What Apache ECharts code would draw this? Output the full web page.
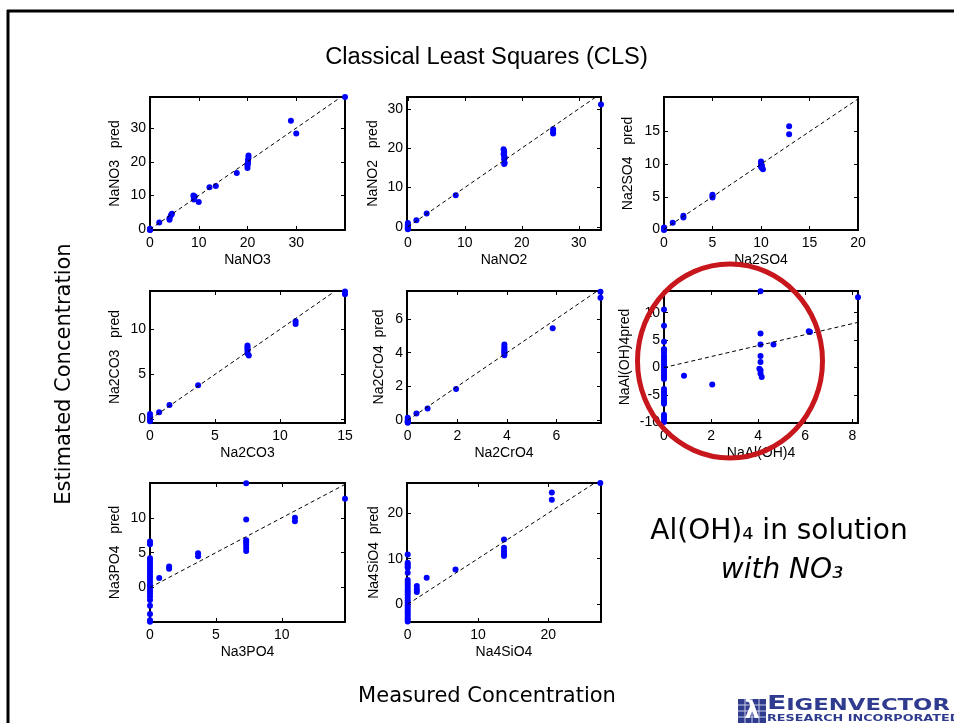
<!DOCTYPE html>
<html>
<head>
<meta charset="utf-8">
<script src="https://cdn.jsdelivr.net/npm/echarts@6/dist/echarts.min.js"></script>
<style>
  html, body { margin: 0; padding: 0; background: #fff; }
  #chart { width: 954px; height: 723px; }
</style>
</head>
<body>
<div id="chart"></div>
<script>
// Measured vs. CLS-predicted concentrations for each sodium salt

const nano3Meas = [0, 0, 0, 0, 1.9, 4.0, 4.0, 4.3, 4.5, 8.9, 9.0, 9.0, 9.2, 10.0, 12.2, 13.5, 17.8, 20.0, 20.0, 20.1, 20.1, 20.2, 20.2, 20.0, 28.9, 30.0, 40.0];
const nano3Pred = [0.2, 0, -0.1, -0.2, 2.0, 3.3, 2.8, 4.2, 4.6, 10.0, 9.5, 8.8, 9.7, 8.1, 12.5, 12.8, 16.7, 18.2, 18.9, 19.7, 20.5, 21.2, 21.9, 19.3, 32.2, 28.4, 39.2];
const nano3XTicks = [0, 10, 20, 30];
const nano3YTicks = [0, 10, 20, 30];

const nano2Meas = [0, 0, 0, 0, 0, 0, 0, 1.5, 3.3, 8.4, 16.8, 16.9, 16.9, 16.8, 16.9, 17.0, 16.9, 17.0, 16.9, 25.5, 25.5, 25.5, 33.9];
const nano2Pred = [1.0, 0.6, 0.3, 0, -0.2, -0.4, -0.6, 1.7, 3.4, 8.0, 19.7, 19.3, 18.9, 18.5, 18.1, 17.6, 17.2, 16.2, 16.0, 24.8, 24.2, 23.7, 31.1];
const nano2XTicks = [0, 10, 20, 30];
const nano2YTicks = [0, 10, 20, 30];

const na2so4Meas = [0, 0, 0, 0, 0.9, 2.0, 2.0, 5.0, 5.0, 5.0, 10.0, 10.0, 10.1, 10.1, 10.2, 10.0, 12.9, 12.9];
const na2so4Pred = [0.3, 0.1, 0, -0.1, 1.0, 2.1, 1.8, 5.3, 5.1, 4.9, 10.4, 10.1, 9.8, 9.4, 9.2, 9.6, 15.8, 14.6];
const na2so4XTicks = [0, 5, 10, 15, 20];
const na2so4YTicks = [0, 5, 10, 15];

const na2co3Meas = [0, 0, 0, 0, 0, 0, 0.7, 1.5, 3.7, 7.5, 7.5, 7.5, 7.5, 7.6, 7.5, 11.2, 11.2, 15.0, 15.0];
const na2co3Pred = [0.6, 0.3, 0, -0.2, -0.5, -0.7, 0.8, 1.6, 3.8, 8.2, 8.0, 7.8, 7.6, 7.1, 7.3, 10.9, 10.6, 14.2, 13.9];
const na2co3XTicks = [0, 5, 10, 15];
const na2co3YTicks = [0, 5, 10];

const na2cro4Meas = [0, 0, 0, 0, 0, 0.35, 0.8, 1.95, 3.9, 3.9, 3.9, 3.9, 3.9, 3.9, 3.9, 5.85, 7.78, 7.78];
const na2cro4Pred = [0.15, 0.05, -0.05, -0.1, -0.15, 0.4, 0.7, 1.85, 4.48, 4.34, 4.24, 4.14, 4.04, 3.95, 3.85, 5.45, 7.6, 7.25];
const na2cro4XTicks = [0, 2, 4, 6];
const na2cro4YTicks = [0, 2, 4, 6];

const naaloh4Meas = [0, 0, 0, 0, 0, 0, 0, 0, 0, 0, 0, 0, 0, 0, 0, 0, 0, 0, 0, 0, 0, 0, 0, 0, 0, 0, 0, 0, 0, 0,
  0.85, 2.05, 4.1, 4.1, 4.1, 4.1, 4.1, 4.05, 4.1, 4.1, 4.15, 4.65, 6.15, 6.2, 8.24];
const naaloh4Pred = [10.6, 7.6, 4.7, 3.4, 3.1, 2.8, 2.2, 1.8, 1.4, 1.0, 0.6, 0.2, -0.2, -0.6, -1.0, -1.4, -1.8, -2.1,
  -3.9, -4.3, -4.7, -5.1, -5.5, -5.9, -6.3, -6.6, -8.6, -9.0, -9.4, -9.9,
  -1.5, -3.1, 13.9, 6.2, 4.2, 2.1, 1.0, -0.2, -0.5, -1.1, -1.7, 4.2, 6.6, 6.5, 12.8];
const naaloh4XTicks = [0, 2, 4, 6, 8];
const naaloh4YTicks = [-10, -5, 0, 5, 10];

const na3po4Meas = [0, 0, 0, 0, 0, 0, 0, 0, 0, 0, 0, 0, 0, 0, 0, 0, 0, 0, 0, 0, 0, 0,
  0.7, 1.45, 1.45, 3.65, 3.65, 7.3, 7.3, 7.3, 7.3, 7.3, 7.3, 7.3, 11.0, 11.0, 14.8];
const na3po4Pred = [6.6, 6.2, 4.2, 3.9, 3.5, 3.1, 2.7, 2.3, 1.9, 1.5, 1.1, 0.7, 0.3, -0.1, -0.5, -0.9, -1.3, -1.8, -2.6, -3.8, -4.7, -4.9,
  1.35, 3.0, 2.7, 4.9, 4.5, 14.95, 9.75, 6.8, 6.5, 6.15, 5.7, 5.25, 10.0, 9.5, 12.75];
const na3po4XTicks = [0, 5, 10];
const na3po4YTicks = [0, 5, 10];

const na4sio4Meas = [0, 0, 0, 0, 0, 0, 0, 0, 0, 0, 0, 0, 0, 0, 0, 0, 0, 0, 0, 0, 0, 0, 0, 0,
  1.3, 1.3, 1.3, 2.7, 6.8, 13.7, 13.7, 13.7, 13.7, 13.7, 20.5, 20.5, 27.4];
const na4sio4Pred = [10.9, 9.1, 8.7, 8.3, 8.0, 6.9, 5.3, 4.7, 4.2, 3.6, 3.0, 2.5, 2.0, 1.4, 0.8, 0.3, -0.3, -0.8, -1.3, -1.8, -2.3, -2.8, -3.3, -3.8,
  4.0, 3.3, 2.7, 5.8, 7.6, 14.2, 12.4, 11.7, 11.1, 10.6, 24.5, 22.9, 26.6];
const na4sio4XTicks = [0, 10, 20];
const na4sio4YTicks = [0, 10, 20];

const AXIS_FONT = 'Liberation Sans, Arial, Helvetica, sans-serif';
const SLIDE_FONT = 'DejaVu Sans, Verdana, sans-serif';

// one subplot per analyte: box = [left, top, width, height]
const panels = [
  { x: nano3Meas, y: nano3Pred, xName: 'NaNO3', yName: 'NaNO3   pred', xRange: [0, 40], yRange: [-0.2, 39.2], xTicks: nano3XTicks, yTicks: nano3YTicks, box: [150, 97, 195, 133], yGap: 28 },
  { x: nano2Meas, y: nano2Pred, xName: 'NaNO2', yName: 'NaNO2   pred', xRange: [-0.15, 33.9], yRange: [-0.8, 33], xTicks: nano2XTicks, yTicks: nano2YTicks, box: [407, 97, 194, 133], yGap: 27 },
  { x: na2so4Meas, y: na2so4Pred, xName: 'Na2SO4', yName: 'Na2SO4   pred', xRange: [0, 20], yRange: [-0.1, 20.3], xTicks: na2so4XTicks, yTicks: na2so4YTicks, box: [664, 97, 194, 133], yGap: 29 },
  { x: na2co3Meas, y: na2co3Pred, xName: 'Na2CO3', yName: 'Na2CO3   pred', xRange: [0, 15], yRange: [-0.4, 14.25], xTicks: na2co3XTicks, yTicks: na2co3YTicks, box: [150, 291, 195, 132], yGap: 28 },
  { x: na2cro4Meas, y: na2cro4Pred, xName: 'Na2CrO4', yName: 'Na2CrO4  pred', xRange: [-0.03, 7.8], yRange: [-0.16, 7.65], xTicks: na2cro4XTicks, yTicks: na2cro4YTicks, box: [407, 291, 194, 132], yGap: 21 },
  { x: naaloh4Meas, y: naaloh4Pred, xName: 'NaAl(OH)4', yName: 'NaAl(OH)4pred', xRange: [0, 8.24], yRange: [-10.1, 13.95], xTicks: naaloh4XTicks, yTicks: naaloh4YTicks, box: [664, 291, 194, 132], yGap: 32 },
  { x: na3po4Meas, y: na3po4Pred, xName: 'Na3PO4', yName: 'Na3PO4   pred', xRange: [0, 14.8], yRange: [-4.95, 15], xTicks: na3po4XTicks, yTicks: na3po4YTicks, box: [150, 483, 195, 139], yGap: 28 },
  { x: na4sio4Meas, y: na4sio4Pred, xName: 'Na4SiO4', yName: 'Na4SiO4  pred', xRange: [-0.1, 27.5], yRange: [-3.9, 26.6], xTicks: na4sio4XTicks, yTicks: na4sio4YTicks, box: [407, 483, 194, 139], yGap: 26 }
];

const grid = [], xAxis = [], yAxis = [], series = [];
const tickBase = { show: true, inside: true, length: 4, lineStyle: { color: '#000', width: 1 } };
const labelBase = { color: '#000', fontSize: 14, fontFamily: AXIS_FONT, hideOverlap: false };
const nameStyle = { color: '#000', fontSize: 14, fontFamily: AXIS_FONT };
const hiddenLine = { show: false, onZero: false };

panels.forEach((p, i) => {
  grid.push({
    left: p.box[0], top: p.box[1], width: p.box[2], height: p.box[3],
    show: true, borderColor: '#000', borderWidth: 2, backgroundColor: 'transparent'
  });
  const xCommon = { type: 'value', gridIndex: i, min: p.xRange[0], max: p.xRange[1], splitLine: { show: false }, axisLine: hiddenLine };
  const yCommon = { type: 'value', gridIndex: i, min: p.yRange[0], max: p.yRange[1], splitLine: { show: false }, axisLine: hiddenLine };
  xAxis.push(Object.assign({}, xCommon, {
    position: 'bottom',
    name: p.xName, nameLocation: 'middle', nameGap: 23, nameTextStyle: nameStyle,
    axisTick: Object.assign({}, tickBase, { customValues: p.xTicks }),
    axisLabel: Object.assign({}, labelBase, { customValues: p.xTicks, margin: 6 })
  }));
  xAxis.push(Object.assign({}, xCommon, {
    position: 'top',
    axisTick: Object.assign({}, tickBase, { customValues: p.xTicks }),
    axisLabel: { show: false }
  }));
  yAxis.push(Object.assign({}, yCommon, {
    position: 'left',
    name: p.yName, nameLocation: 'middle', nameGap: p.yGap, nameTextStyle: nameStyle,
    axisTick: Object.assign({}, tickBase, { customValues: p.yTicks }),
    axisLabel: Object.assign({}, labelBase, { customValues: p.yTicks, margin: 4 })
  }));
  yAxis.push(Object.assign({}, yCommon, {
    position: 'right',
    axisTick: Object.assign({}, tickBase, { customValues: p.yTicks }),
    axisLabel: { show: false }
  }));

  series.push({
    type: 'scatter', xAxisIndex: 2 * i, yAxisIndex: 2 * i,
    data: p.x.map((v, k) => [v, p.y[k]]),
    symbol: 'circle', symbolSize: 6,
    itemStyle: { color: '#0000ff', opacity: 1 }, z: 2
  });
  // y = x reference line
  const hi = Math.max(p.xRange[1], p.yRange[1]);
  series.push({
    type: 'line', xAxisIndex: 2 * i, yAxisIndex: 2 * i,
    data: [[0, 0], [hi, hi]], symbol: 'none', clip: true, silent: true,
    lineStyle: { color: '#000', width: 1, type: [4, 3] }, z: 3
  });
});

const graphic = [
  // slide frame
  { type: 'line', shape: { x1: 7, y1: 11, x2: 954, y2: 11 }, style: { stroke: '#000', lineWidth: 3 } },
  { type: 'line', shape: { x1: 8, y1: 10, x2: 8, y2: 723 }, style: { stroke: '#000', lineWidth: 3 } },
  { type: 'text', x: 486.5, y: 58, scaleX: 1.03, style: { text: 'Classical Least Squares (CLS)', fontSize: 23, fontFamily: AXIS_FONT, fill: '#000', align: 'center', verticalAlign: 'middle' } },
  { type: 'text', x: 65, y: 374, rotation: Math.PI / 2, style: { text: 'Estimated Concentration', fontSize: 21, fontFamily: SLIDE_FONT, fill: '#000', align: 'center', verticalAlign: 'middle' } },
  { type: 'text', x: 487, y: 697, style: { text: 'Measured Concentration', fontSize: 21, fontFamily: SLIDE_FONT, fill: '#000', align: 'center', verticalAlign: 'middle' } },
  { type: 'text', x: 779, y: 532, style: { text: 'Al(OH)\u2084 in solution', fontSize: 28, fontFamily: SLIDE_FONT, fill: '#000', align: 'center', verticalAlign: 'middle' } },
  { type: 'text', x: 782, y: 571, style: { text: 'with NO\u2083', fontSize: 28, fontStyle: 'italic', fontFamily: SLIDE_FONT, fill: '#000', align: 'center', verticalAlign: 'middle' } },
  // company logo
  { type: 'rect', shape: { x: 738, y: 699, width: 28, height: 24 }, style: { fill: '#2e3b8f' } },
  { type: 'line', shape: { x1: 745, y1: 699, x2: 745, y2: 723 }, style: { stroke: '#c9cde6', lineWidth: 1 } },
  { type: 'line', shape: { x1: 752, y1: 699, x2: 752, y2: 723 }, style: { stroke: '#c9cde6', lineWidth: 1 } },
  { type: 'line', shape: { x1: 759, y1: 699, x2: 759, y2: 723 }, style: { stroke: '#c9cde6', lineWidth: 1 } },
  { type: 'line', shape: { x1: 738, y1: 705, x2: 766, y2: 705 }, style: { stroke: '#c9cde6', lineWidth: 1 } },
  { type: 'line', shape: { x1: 738, y1: 711, x2: 766, y2: 711 }, style: { stroke: '#c9cde6', lineWidth: 1 } },
  { type: 'line', shape: { x1: 738, y1: 717, x2: 766, y2: 717 }, style: { stroke: '#c9cde6', lineWidth: 1 } },
  { type: 'text', x: 752, y: 712, style: { text: '\u03bb', fontSize: 24, fontWeight: 'bold', fontFamily: SLIDE_FONT, fill: '#fff', align: 'center', verticalAlign: 'middle' } },
  {
    type: 'group', x: 767, y: 0, scaleX: 1.42,
    children: [
      { type: 'text', x: 0, y: 714, style: { text: 'E', fontSize: 20, fontWeight: 'bold', fontFamily: SLIDE_FONT, fill: '#2e3b8f', align: 'left', verticalAlign: 'bottom' } },
      { type: 'text', x: 13.5, y: 714, style: { text: 'IGENVECTOR', fontSize: 16, fontWeight: 'bold', fontFamily: SLIDE_FONT, fill: '#2e3b8f', align: 'left', verticalAlign: 'bottom' } },
      { type: 'text', x: 0, y: 723, style: { text: 'RESEARCH INCORPORATED', fontSize: 9, fontWeight: 'bold', fontFamily: SLIDE_FONT, fill: '#2e3b8f', align: 'left', verticalAlign: 'bottom' } }
    ]
  },
  // highlight ring around the aluminate panel
  { type: 'ellipse', shape: { cx: 730, cy: 361, rx: 92.5, ry: 97 }, style: { fill: 'none', stroke: '#c8161d', lineWidth: 5 }, z: 100 }
];

const chart = echarts.init(document.getElementById('chart'), null, { renderer: 'canvas' });
chart.setOption({
  animation: false,
  backgroundColor: '#fff',
  grid, xAxis, yAxis, series, graphic
});
</script>
</body>
</html>
